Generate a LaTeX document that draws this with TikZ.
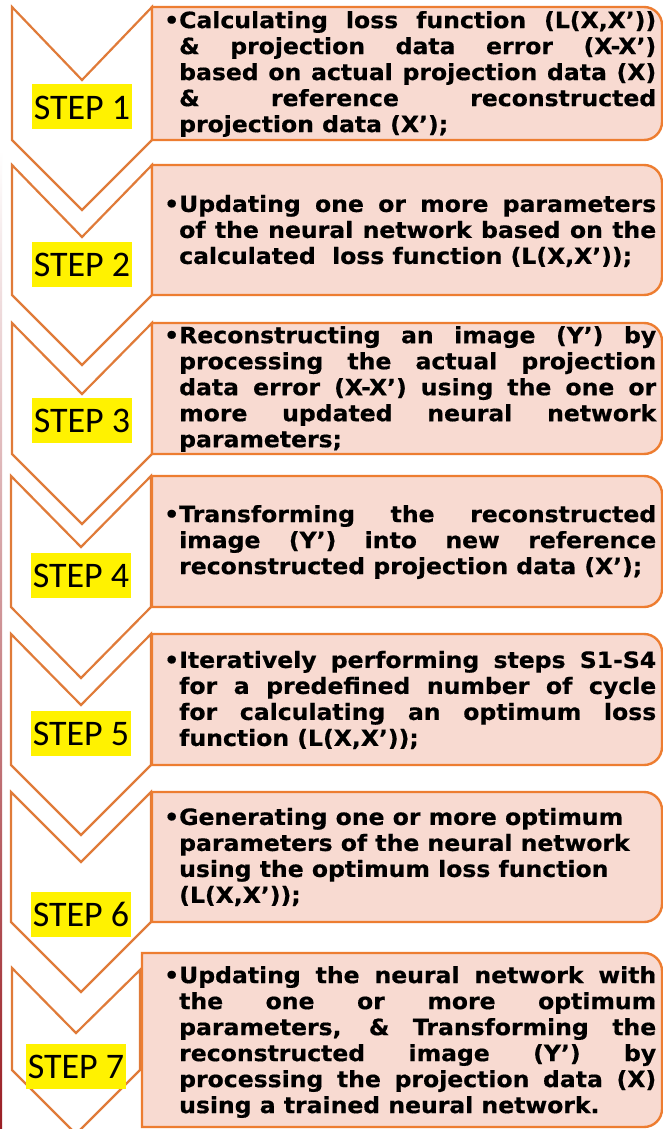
\documentclass[tikz,border=0pt]{standalone}
\usepackage{fontspec}
\newfontfamily\boxfont{DejaVu Sans}[FakeStretch=1.05,BoldFeatures={FakeBold=0.6}]
\newfontfamily\stepfont{Carlito}
\definecolor{chevline}{HTML}{E07B39}
\definecolor{boxline}{HTML}{ED7D31}
\definecolor{boxfill}{HTML}{F8DAD1}
\definecolor{edgered}{HTML}{9A1E24}
\newcommand{\jl}[1]{\makebox[477pt][s]{#1}}
\tikzset{
  chev/.style={draw=chevline, line width=2.2pt, fill=white, line join=miter},
  boxst/.style={draw=boxline, line width=2.4pt, fill=boxfill},
  steplabel/.style={fill=yellow, inner xsep=1.5pt, inner ysep=0pt, text height=35pt, text depth=10pt, font=\stepfont\fontsize{36}{40}\selectfont},
  boxtext/.style={anchor=west, align=left, inner sep=0pt, font=\boxfont\bfseries\fontsize{22.4}{26}\selectfont}
}
% chevron: left x, right x, center x, top, notch, bottom, tip  (pixel y, downwards)
\newcommand{\chevron}[7]{\draw[chev] (#1,-#4) -- (#3,-#5) -- (#2,-#4) -- (#2,-#6) -- (#3,-#7) -- (#1,-#6) -- cycle;}
% box: left x, top, bottom
\newcommand{\rbox}[3]{\draw[boxst] (#1,-#2) -- (644,-#2) arc[start angle=90,end angle=0,radius=18pt] -- (662,-#3+18) arc[start angle=0,end angle=-90,radius=18pt] -- (#1,-#3) -- cycle;}
\begin{document}
\begin{tikzpicture}[x=1pt,y=1pt]
\useasboundingbox (0,0) rectangle (663,-1129);
\fill[white] (0,0) rectangle (663,-1129);
\shade[top color=white, bottom color=edgered] (0,-150) rectangle (2,-1129);
% chevrons
\chevron{12}{152}{82}{7}{80}{140}{210}
\chevron{12}{152}{82}{165}{237}{295}{365}
\chevron{12}{152}{82}{323}{394}{454}{524}
\chevron{11}{151}{81}{476}{547}{607}{678}
\chevron{11}{151}{81}{634}{705}{765}{835}
\chevron{11}{151}{81}{792}{862}{922}{992}
\draw[chev] (12,-968) -- (76,-1033) -- (140,-970) -- (140,-1070) -- (76,-1134) -- (12,-1070) -- cycle;
% boxes
\rbox{152}{7}{140}
\rbox{152}{165}{295}
\rbox{152}{323}{454}
\rbox{152}{476}{607}
\rbox{152}{634}{765}
\rbox{152}{792}{922}
\rbox{142}{953}{1127}
% step labels
\node[steplabel] (s1) at (82,-107) {STEP 1};
\node[steplabel] (s2) at (82,-264) {STEP 2};
\node[steplabel] (s3) at (82,-420) {STEP 3};
\node[steplabel] (s4) at (81,-575) {STEP 4};
\node[steplabel] (s5) at (81,-733) {STEP 5};
\node[steplabel] (s6) at (81,-914) {STEP 6};
\node[steplabel] (s7) at (76,-1066) {STEP 7};
% texts
\node[boxtext] (t1) at (179,-74) {\llap{•}\jl{Calculating loss function (L(X,X’))}\\
\jl{\& projection data error (X-X’)}\\
\jl{based on actual projection data (X)}\\
\jl{\& reference reconstructed}\\
projection data (X’);};
\node[boxtext] (t2) at (179,-231) {\llap{•}\jl{Updating one or more parameters}\\
\jl{of the neural network based on the}\\
calculated \ loss function (L(X,X’));};
\node[boxtext] (t3) at (179,-389) {\llap{•}\jl{Reconstructing an image (Y’) by}\\
\jl{processing the actual projection}\\
\jl{data error (X-X’) using the one or}\\
\jl{more updated neural network}\\
parameters;};
\node[boxtext] (t4) at (179,-542) {\llap{•}\jl{Transforming the reconstructed}\\
\jl{image (Y’) into new reference}\\
reconstructed projection data (X’);};
\node[boxtext] (t5) at (179,-700) {\llap{•}\jl{Iteratively performing steps S1-S4}\\
\jl{for a predefined number of cycle}\\
\jl{for calculating an optimum loss}\\
function (L(X,X’));};
\node[boxtext] (t6) at (179,-857) {\llap{•}Generating one or more optimum\\
parameters of the neural network\\
using the optimum loss function\\
(L(X,X’));};
\node[boxtext] (t7) at (179,-1042) {\llap{•}\jl{Updating the neural network with}\\
\jl{the one or more optimum}\\
\jl{parameters, \& Transforming the}\\
\jl{reconstructed image (Y’) by}\\
\jl{processing the projection data (X)}\\
using a trained neural network.};
\end{tikzpicture}
\end{document}
